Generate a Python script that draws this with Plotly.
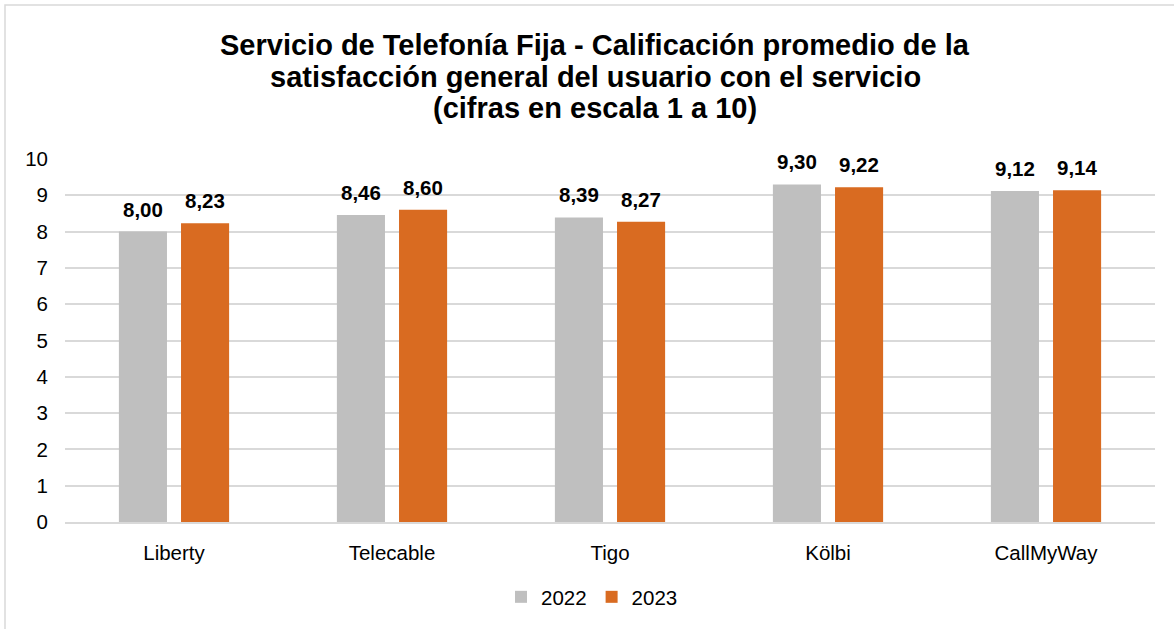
import plotly.graph_objects as go

categories = ["Liberty", "Telecable", "Tigo", "Kölbi", "CallMyWay"]
values_2022 = [8.00, 8.46, 8.39, 9.30, 9.12]
values_2023 = [8.23, 8.60, 8.27, 9.22, 9.14]
series_names = ["2022", "2023"]
colors = ["#BFBFBF", "#D96B21"]
title_lines = [
    "Servicio de Telefonía Fija - Calificación promedio de la",
    "satisfacción general del usuario con el servicio",
    "(cifras en escala 1 a 10)",
]

FONT = "Liberation Sans, Arial, sans-serif"
L, R, T, B = 65, 19, 159, 107
W, H = 1174, 629
PW, PH = W - L - R, H - T - B


def px_to_py(py):
    return (H - B - py) / PH


def px_to_px(px):
    return (px - L) / PW


fig = go.Figure()
for name, vals, col in zip(series_names, [values_2022, values_2023], colors):
    fig.add_trace(go.Bar(
        x=categories, y=vals, name=name, marker_color=col,
        marker_line_width=0,
    ))

BARGAP = 0.43
slot = 0.5 * (1 - BARGAP)
for i, vals in enumerate([values_2022, values_2023]):
    off = (-0.5 + i) * slot
    for k, v in enumerate(vals):
        fig.add_annotation(
            x=k + off, y=v, xref="x", yref="y",
            text="<b>" + f"{v:.2f}".replace(".", ",") + "</b>",
            showarrow=False, yanchor="bottom", yshift=9,
            font=dict(size=20.5, color="#000000", family=FONT),
        )

for line, py in zip(title_lines, [45, 77, 108]):
    fig.add_annotation(
        x=px_to_px(595), y=px_to_py(py), xref="paper", yref="paper",
        text="<b>" + line + "</b>", showarrow=False,
        xanchor="center", yanchor="middle",
        font=dict(size=29, color="#000000", family=FONT),
    )

fig.add_shape(type="rect", xref="paper", yref="paper",
              x0=px_to_px(5), x1=px_to_px(1190), y0=px_to_py(640), y1=px_to_py(5),
              line=dict(color="#D9D9D9", width=1.5), fillcolor="rgba(0,0,0,0)", layer="below")

fig.update_layout(
    width=W, height=H,
    margin=dict(l=L, r=R, t=T, b=B, autoexpand=False),
    paper_bgcolor="white", plot_bgcolor="white",
    barmode="group", bargap=BARGAP, bargroupgap=0.226,
    font=dict(family=FONT, size=20.5, color="#000000"),
    xaxis=dict(showgrid=False, showline=True, linecolor="#D9D9D9", linewidth=1.5,
               ticks="", tickfont=dict(size=20.5), ticklabelstandoff=12),
    yaxis=dict(range=[0, 10], dtick=1, showgrid=True, gridcolor="#D9D9D9", gridwidth=1.5,
               zeroline=False, showline=False, ticks="", tickfont=dict(size=20.5),
               ticklabelstandoff=16),
    legend=dict(orientation="h", x=px_to_px(592), xanchor="center",
                y=px_to_py(597), yanchor="middle",
                font=dict(size=20.5), traceorder="normal"),
    showlegend=True,
)

fig.write_html("out.html", config={"displayModeBar": False},
               post_script="document.body.style.margin='0';document.body.style.overflow='hidden';")
